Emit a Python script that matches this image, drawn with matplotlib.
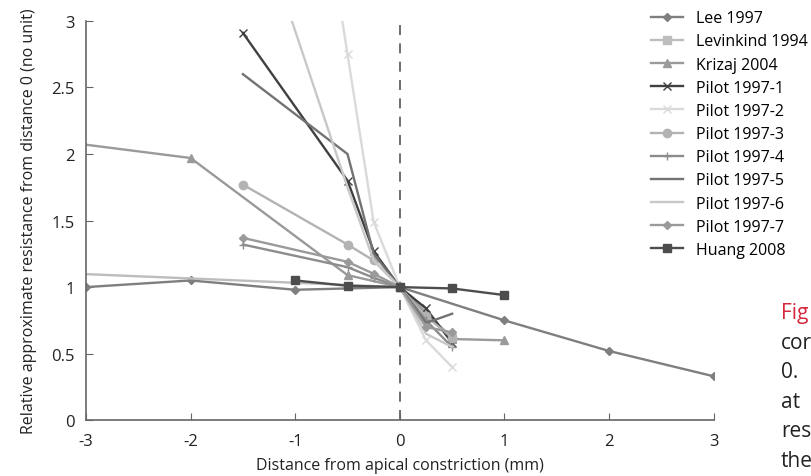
import matplotlib.pyplot as plt

plt.rcParams['font.family'] = ['Open Sans', 'DejaVu Sans']
plt.rcParams['axes.unicode_minus'] = False

# data
lee_x = [-3, -2, -1, 0, 1, 2, 3]
lee_y = [1.0, 1.05, 0.98, 1.0, 0.75, 0.52, 0.33]
levinkind_x = [-4, 0, 0.5]
levinkind_y = [1.13, 1.0, 0.62]
krizaj_x = [-3.5, -2, -0.5, 0, 0.5, 1]
krizaj_y = [2.12, 1.97, 1.09, 1.0, 0.61, 0.6]
pilot1_x = [-1.5, -0.5, -0.25, 0, 0.25, 0.5]
pilot1_y = [2.91, 1.80, 1.27, 1.0, 0.84, 0.58]
pilot2_x = [-0.75, -0.5, -0.25, 0, 0.25, 0.5]
pilot2_y = [4.0, 2.75, 1.49, 1.0, 0.6, 0.4]
pilot3_x = [-1.5, -0.5, -0.25, 0, 0.25, 0.5]
pilot3_y = [1.77, 1.32, 1.2, 1.0, 0.78, 0.62]
pilot4_x = [-1.5, -0.5, -0.25, 0, 0.25, 0.5]
pilot4_y = [1.32, 1.15, 1.07, 1.0, 0.75, 0.55]
pilot5_x = [-1.5, -0.5, -0.25, 0, 0.25, 0.5]
pilot5_y = [2.6, 2.0, 1.25, 1.0, 0.73, 0.8]
pilot6_x = [-1.5, -0.5, -0.25, 0, 0.25, 0.5]
pilot6_y = [4.1, 1.75, 1.2, 1.0, 0.65, 0.55]
pilot7_x = [-1.5, -0.5, -0.25, 0, 0.25, 0.5]
pilot7_y = [1.37, 1.19, 1.1, 1.0, 0.7, 0.66]
huang_x = [-1, -0.5, 0, 0.5, 1]
huang_y = [1.05, 1.01, 1.0, 0.99, 0.94]

series = [
    ("Lee 1997", lee_x, lee_y, "#7f7f7f", "D", 4),
    ("Levinkind 1994", levinkind_x, levinkind_y, "#bdbdbd", "s", 6),
    ("Krizaj 2004", krizaj_x, krizaj_y, "#9a9a9a", "^", 6),
    ("Pilot 1997-1", pilot1_x, pilot1_y, "#404040", "x", 6),
    ("Pilot 1997-2", pilot2_x, pilot2_y, "#dadada", "x", 6),
    ("Pilot 1997-3", pilot3_x, pilot3_y, "#b3b3b3", "o", 6),
    ("Pilot 1997-4", pilot4_x, pilot4_y, "#8c8c8c", "+", 6),
    ("Pilot 1997-5", pilot5_x, pilot5_y, "#737373", None, 0),
    ("Pilot 1997-6", pilot6_x, pilot6_y, "#c8c8c8", None, 0),
    ("Pilot 1997-7", pilot7_x, pilot7_y, "#9a9a9a", "D", 4),
    ("Huang 2008", huang_x, huang_y, "#4d4d4d", "s", 6),
]

fig = plt.figure(figsize=(8.11, 4.77), dpi=100)
ax = fig.add_axes([0.106, 0.117, 0.774, 0.837])

for label, xs, ys, col, mk, ms in series:
    ax.plot(xs, ys, color=col, lw=1.7, marker=mk, markersize=ms, label=label,
            markeredgecolor=col, markerfacecolor=col)

ax.axvline(0, color="#555555", lw=1.2, ls=(0, (6, 5)), zorder=0)

ax.set_xlim(-3, 3)
ax.set_ylim(0, 3)
ax.set_xticks([-3, -2, -1, 0, 1, 2, 3])
ax.set_yticks([0, 0.5, 1, 1.5, 2, 2.5, 3])
ax.set_yticklabels(["0", "0.5", "1", "1.5", "2", "2.5", "3"])
ax.tick_params(direction="in", length=5, color="#666666", labelsize=12, labelcolor="#222222")
ax.tick_params(axis="y", pad=8)
ax.tick_params(axis="x", pad=9)
for s in ["top", "right"]:
    ax.spines[s].set_visible(False)
for s in ["left", "bottom"]:
    ax.spines[s].set_color("#666666")
    ax.spines[s].set_linewidth(1.2)

ax.set_xlabel("Distance from apical constriction (mm)", fontsize=11.5, color="#222222", labelpad=6)
ax.set_ylabel("Relative approximate resistance from distance 0 (no unit)", fontsize=11.5,
              color="#222222", labelpad=10)

fig.legend(loc="upper left", bbox_to_anchor=(0.795, 0.99), frameon=False, fontsize=11.5,
           labelspacing=0.45, handlelength=2.0, handletextpad=0.8, borderaxespad=0)

# cropped caption fragments at the right edge
frags = [("Fig", "#d7263d"), ("cor", "#222222"), ("0.", "#222222"),
         ("at", "#222222"), ("res", "#222222"), ("the", "#222222")]
for i, (t, c) in enumerate(frags):
    fig.text(781 / 811, 1 - (314 + i * 29.5) / 477, t, fontsize=15, color=c, va="center")

plt.savefig("out.png", dpi=100)
